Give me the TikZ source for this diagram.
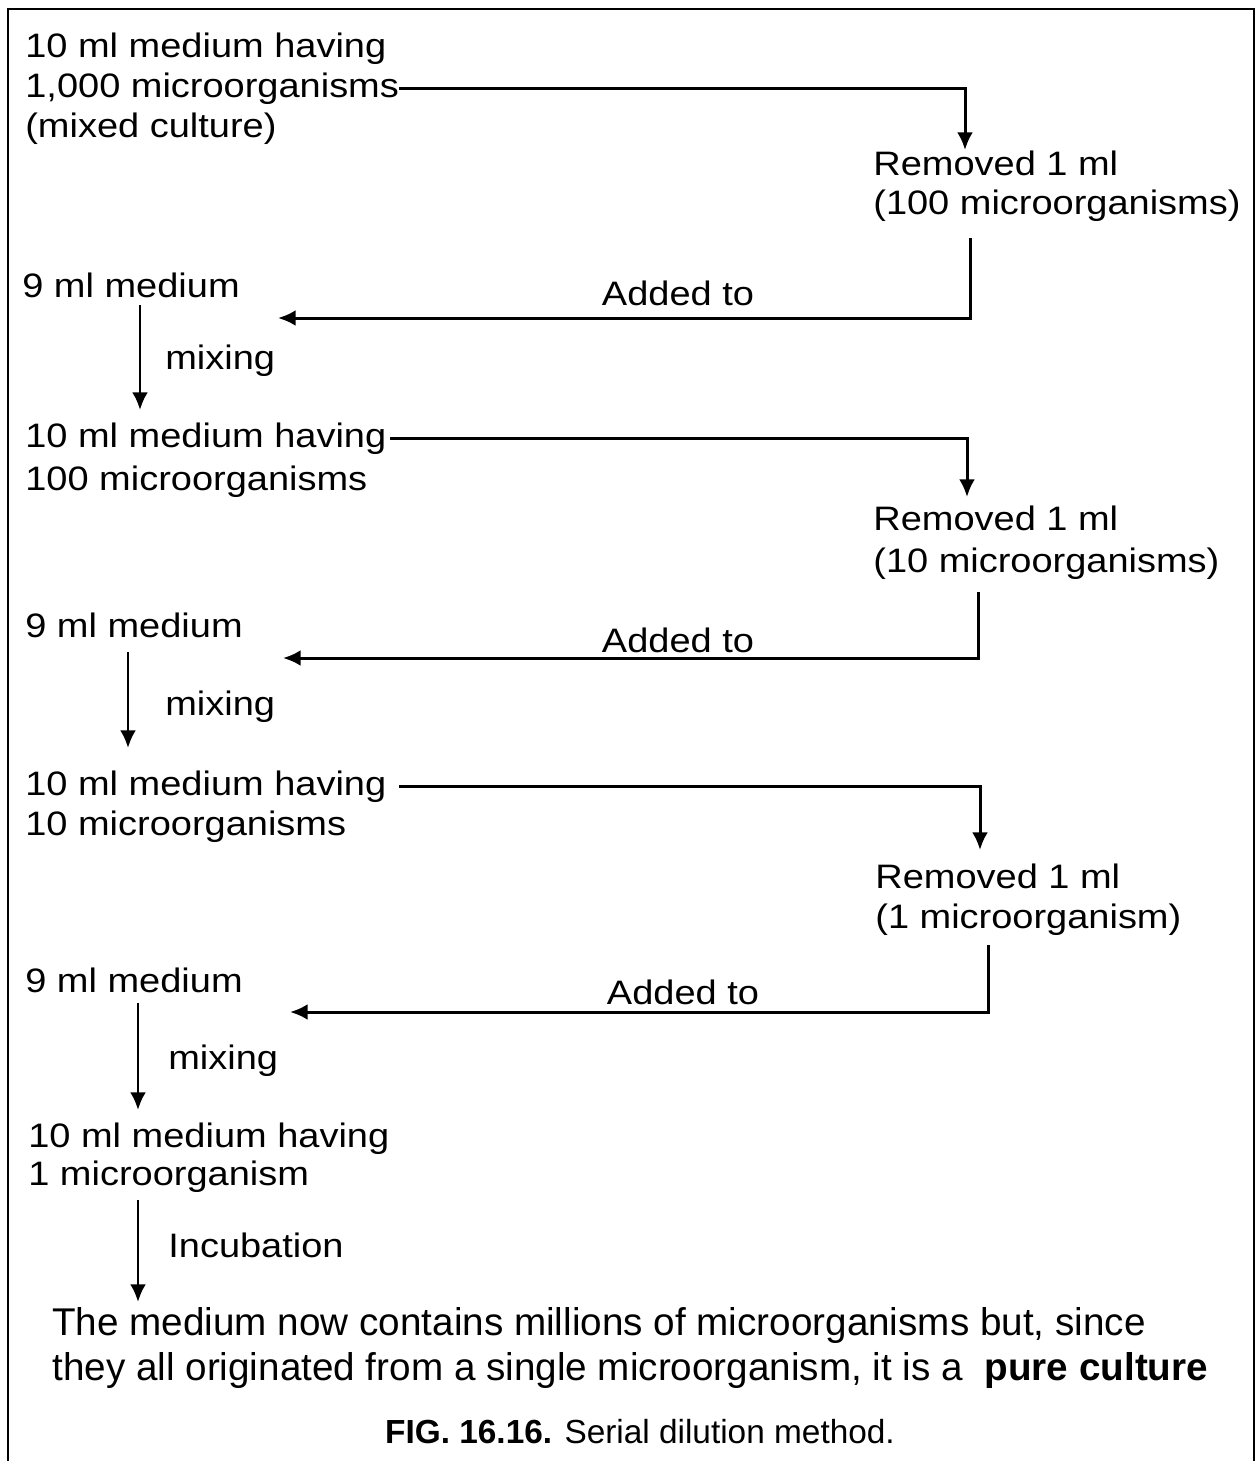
\documentclass[tikz,border=0pt]{standalone}
\usepackage{fontspec}
\setmainfont{Liberation Sans}[FakeStretch=1.12]
\newfontfamily\narrowfont{Liberation Sans}[FakeStretch=1.0]
\usetikzlibrary{arrows.meta}
\tikzset{
  lbl/.style   ={anchor=base west, inner sep=0pt, font=\fontsize{19.3}{23}\selectfont},
  endtxt/.style={anchor=base west, inner sep=0pt, font=\narrowfont\fontsize{22}{26}\selectfont},
  figcap/.style={anchor=base, inner sep=0pt, font=\narrowfont\fontsize{19}{22}\selectfont},
  link/.style  ={line width=1.7pt},
  flow/.style  ={link, -{Latex[length=10pt,width=9pt]}},
}

\begin{document}
\begin{tikzpicture}[x=0.02cm, y=-0.02cm]
  \useasboundingbox (0,0) rectangle (1256,1461);
  \draw[line width=1.3pt] (8,1461) -- (8,9) -- (1254,9) -- (1254,1461);

  % first tube
  \node[lbl] (s1a) at (25,57)  {10 ml medium having};
  \node[lbl] (s1b) at (25,97)  {1,000 microorganisms};
  \node[lbl] (s1c) at (25,137) {(mixed culture)};
  \node[lbl] (r1a) at (873,175) {Removed 1 ml};
  \node[lbl] (r1b) at (873,214) {(100 microorganisms)};
  \node[lbl] (n1)  at (22,297) {9 ml medium};
  \node[lbl, anchor=base] (ad1) at (678,305) {Added to};
  \node[lbl] (mx1) at (165,369) {mixing};

  % second tube
  \node[lbl] (s2a) at (25,447) {10 ml medium having};
  \node[lbl] (s2b) at (25,490) {100 microorganisms};
  \node[lbl] (r2a) at (873,530) {Removed 1 ml};
  \node[lbl] (r2b) at (873,572) {(10 microorganisms)};
  \node[lbl] (n2)  at (25,637) {9 ml medium};
  \node[lbl, anchor=base] (ad2) at (678,652) {Added to};
  \node[lbl] (mx2) at (165,715) {mixing};

  % third tube
  \node[lbl] (s3a) at (25,795) {10 ml medium having};
  \node[lbl] (s3b) at (25,835) {10 microorganisms};
  \node[lbl] (r3a) at (875,888) {Removed 1 ml};
  \node[lbl] (r3b) at (875,928) {(1 microorganism)};
  \node[lbl] (n3)  at (25,992) {9 ml medium};
  \node[lbl, anchor=base] (ad3) at (683,1004) {Added to};
  \node[lbl] (mx3) at (168,1069) {mixing};

  % last tube
  \node[lbl] (s4a) at (28,1147) {10 ml medium having};
  \node[lbl] (s4b) at (28,1185) {1 microorganism};
  \node[lbl] (inc) at (168,1257) {Incubation};
  \node[endtxt] (res1) at (52,1335) {The medium now contains millions of microorganisms but, since};
  \node[endtxt] (res2) at (52,1380) {they all originated from a single microorganism, it is a\ \ \textbf{pure culture}};
  \node[figcap] (cap) at (640,1443) {\textbf{FIG. 16.16.} Serial dilution method.};

  % ends of the connectors
  \coordinate (d1) at (965,150);  \coordinate (u1) at (970,238);  \coordinate (a1) at (278,318);
  \coordinate (d2) at (967,497);  \coordinate (u2) at (978,592);  \coordinate (a2) at (283,658);
  \coordinate (d3) at (980,850);  \coordinate (u3) at (988,945);  \coordinate (a3) at (290,1012);
  \coordinate (m1s) at (140,305);  \coordinate (m1e) at (140,410);
  \coordinate (m2s) at (128,652);  \coordinate (m2e) at (128,748);
  \coordinate (m3s) at (138,1003); \coordinate (m3e) at (138,1110);
  \coordinate (i1s) at (138,1200); \coordinate (i1e) at (138,1302);

  \draw[flow] (s1b.east) -| (d1);
  \draw[flow] (u1) |- (a1);
  \draw[flow] (m1s) -- (m1e);
  \draw[flow] ([xshift=2pt]s2a.east) -| (d2);
  \draw[flow] (u2) |- (a2);
  \draw[flow] (m2s) -- (m2e);
  \draw[flow] ([xshift=7pt]s3a.east) -| (d3);
  \draw[flow] (u3) |- (a3);
  \draw[flow] (m3s) -- (m3e);
  \draw[flow] (i1s) -- (i1e);
\end{tikzpicture}
\end{document}
